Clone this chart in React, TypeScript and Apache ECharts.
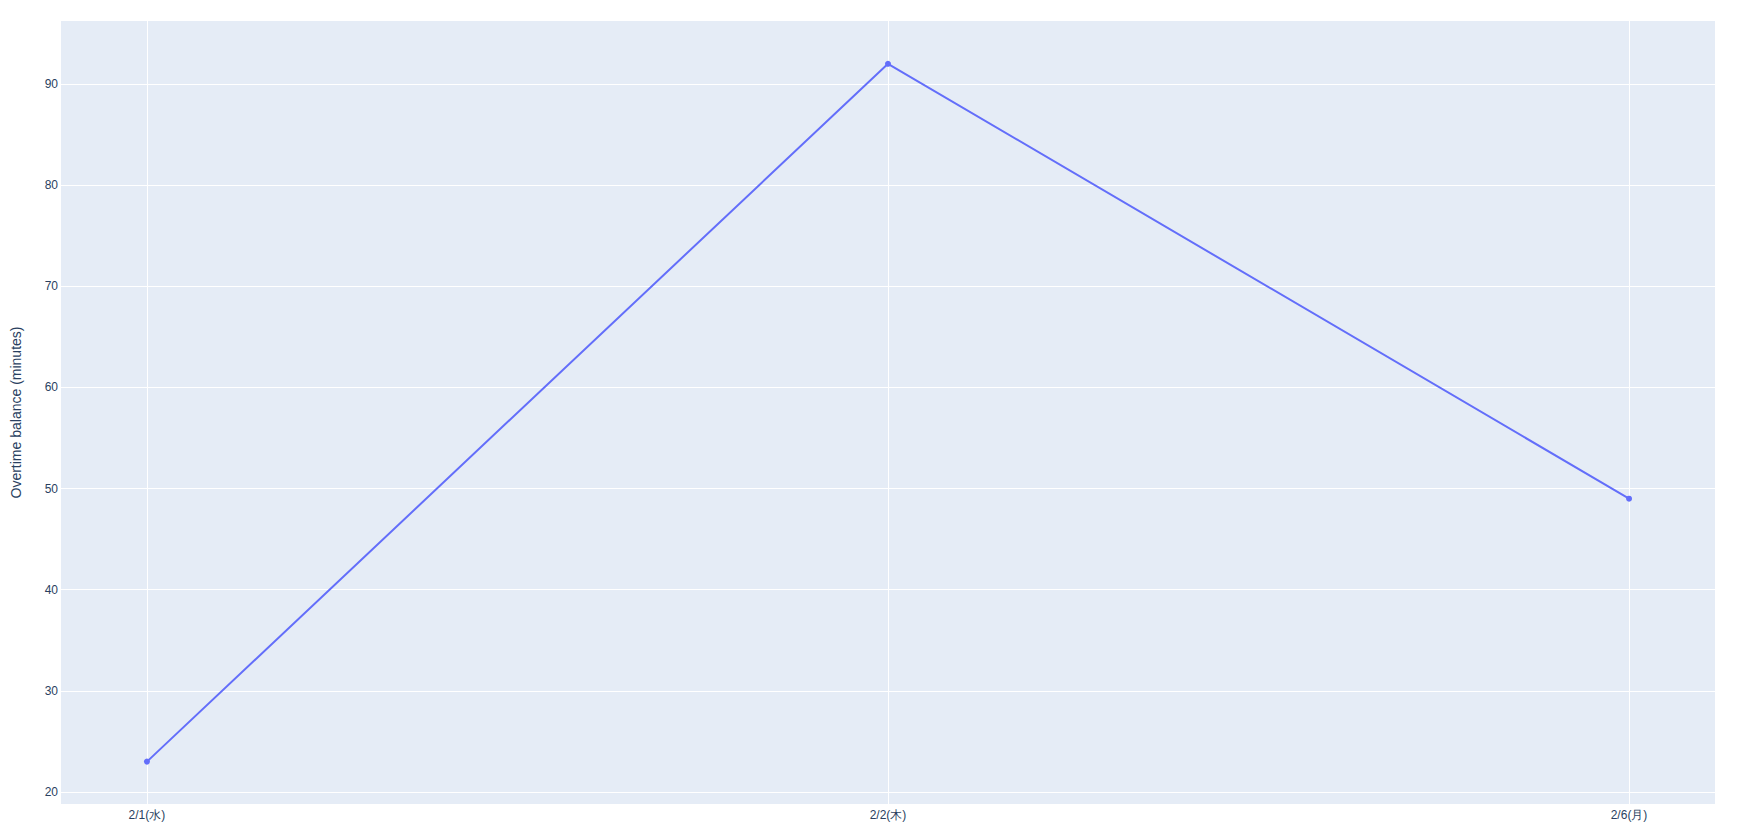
import React, { useEffect, useRef } from "react";
import * as echarts from "echarts";

const categories = ["2/1(水)", "2/2(木)", "2/6(月)"];
const balanceValues = [23, 92, 49];
const yTicks = [20, 30, 40, 50, 60, 70, 80, 90];
const xTicks = [0, 1, 2];

const FONT = '"Liberation Sans", Arial, sans-serif';
const TEXT = "#2a3f5f";

export default function App() {
  const ref = useRef<HTMLDivElement>(null);
  useEffect(() => {
    if (!ref.current) return;
    const chart = echarts.init(ref.current, undefined, { renderer: "svg" });
    const gridLineStyle = { color: "#ffffff", width: 1, type: "solid" as const };
    chart.setOption({
      animation: false,
      textStyle: { fontFamily: FONT },
      grid: {
        left: 61,
        top: 21,
        right: 23,
        bottom: 28,
        show: true,
        backgroundColor: "#E5ECF6",
        borderWidth: 0,
        containLabel: false,
        outerBoundsMode: "none",
      },
      xAxis: {
        type: "value",
        min: -0.116,
        max: 2.116,
        axisLine: { show: false },
        axisTick: { show: false },
        splitLine: { show: false },
        axisLabel: {
          customValues: xTicks,
          formatter: (v: number) => categories[Math.round(v)] ?? "",
          color: TEXT,
          fontSize: 12,
          fontFamily: FONT,
          margin: 5,
        },
      },
      yAxis: {
        type: "value",
        min: 18.81,
        max: 96.23,
        name: "Overtime balance (minutes)",
        nameLocation: "middle",
        nameGap: 38,
        nameTextStyle: { color: TEXT, fontSize: 14, fontFamily: FONT },
        axisLine: { show: false },
        axisTick: { show: false },
        splitLine: { show: false },
        axisLabel: {
          customValues: yTicks,
          color: TEXT,
          fontSize: 12,
          fontFamily: FONT,
          margin: 3,
        },
      },
      series: [
        {
          type: "line",
          z: 1,
          data: [],
          silent: true,
          markLine: {
            z: 1,
            silent: true,
            symbol: "none",
            label: { show: false },
            lineStyle: gridLineStyle,
            emphasis: { disabled: true },
            data: [
              ...xTicks.map((x) => ({ xAxis: x })),
              ...yTicks.map((y) => ({ yAxis: y })),
            ],
          },
        },
        {
          type: "line",
          z: 10,
          data: balanceValues.map((v, i) => [xTicks[i], v]),
          symbol: "circle",
          symbolSize: 6,
          showSymbol: true,
          lineStyle: { color: "#636efa", width: 2 },
          itemStyle: { color: "#636efa" },
        },
      ],
    });
    return () => chart.dispose();
  }, []);
  return (
    <div
      ref={ref}
      style={{ position: "absolute", left: 0, top: 0, width: 1738, height: 832 }}
    />
  );
}
